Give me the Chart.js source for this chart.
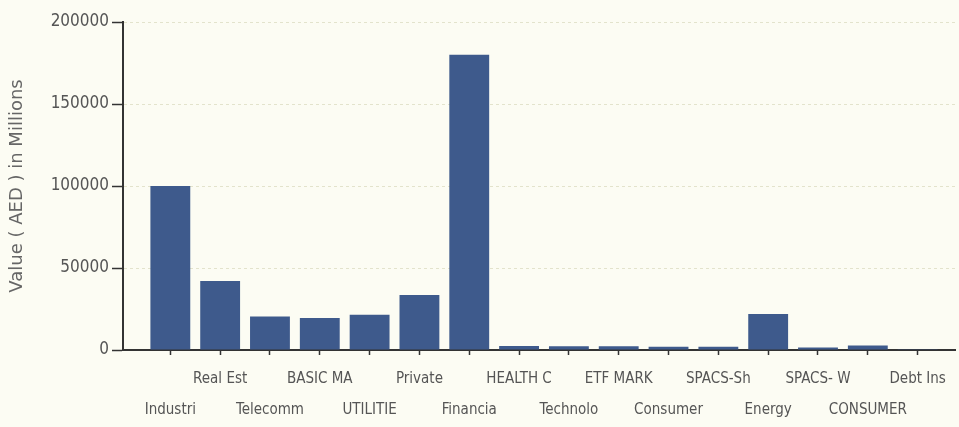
<!DOCTYPE html>
<html>
<head>
<meta charset="utf-8">
<script src="https://cdn.jsdelivr.net/npm/chart.js@4"></script>
<style>
    html, body { margin: 0; padding: 0; background: #fcfcf3; }
    #wrap { width: 959px; height: 427px; }
</style>
</head>
<body>
<div id="wrap"><canvas id="chart-sector-value"></canvas></div>
<script>
const categories = [
    "Industri", "Real Est", "Telecomm", "BASIC MA", "UTILITIE", "Private",
    "Financia", "HEALTH C", "Technolo", "ETF MARK", "Consumer", "SPACS-Sh",
    "Energy", "SPACS- W", "CONSUMER", "Debt Ins",
];
const values = [
    100000, 42000, 20500, 19500, 21500, 33500,
    180000, 2500, 2300, 2300, 2000, 2000,
    22000, 1500, 2800, 200,
];
const yTicks = [0, 50000, 100000, 150000, 200000];

const textColor = "#555555";
const axisColor = "#333333";
const narrowFont = "'DejaVu Sans Condensed', 'Liberation Sans Narrow', sans-serif";

const initChart = () => {
    const chartSectorValue = new Chart(
        document.getElementById("chart-sector-value"),
        {
            type: "bar",
            data: {
                datasets: [
                    {
                        label: "Value",
                        data: categories.map((c, i) => ({ x: i, y: values[i] })),
                        backgroundColor: "#3e5a8c",
                        borderWidth: 0,
                        barPercentage: 0.8,
                        categoryPercentage: 1,
                    },
                ],
            },
            options: {
                responsive: true,
                maintainAspectRatio: false,
                animation: false,
                layout: {
                    padding: { left: 0, top: 22, right: 4, bottom: 0 },
                },
                plugins: {
                    legend: { display: false },
                    tooltip: { enabled: false },
                },
                scales: {
                    x: {
                        type: "linear",
                        offset: false,
                        min: -0.95,
                        max: 15.75,
                        afterBuildTicks: (scale) => {
                            scale.ticks = categories.map((c, i) => ({ value: i }));
                        },
                        afterFit: (scale) => {
                            scale.height = 77;
                        },
                        grid: {
                            offset: false,
                            drawOnChartArea: false,
                            tickLength: 5,
                            tickColor: axisColor,
                            tickWidth: 1.5,
                        },
                        border: { color: axisColor, width: 2 },
                        ticks: {
                            autoSkip: false,
                            maxRotation: 0,
                            minRotation: 0,
                            padding: 9,
                            color: textColor,
                            font: {
                                family: narrowFont,
                                size: 15,
                                lineHeight: "31px",
                            },
                            callback: (value) => {
                                const name = categories[value];
                                return value % 2 === 0 ? ["", name] : [name, ""];
                            },
                        },
                    },
                    y: {
                        min: 0,
                        max: 200000,
                        afterBuildTicks: (scale) => {
                            scale.ticks = yTicks.map((v) => ({ value: v }));
                        },
                        afterFit: (scale) => {
                            scale.width = 123;
                        },
                        grid: {
                            color: "#e3e3cc",
                            lineWidth: 1,
                            tickLength: 11,
                            tickColor: axisColor,
                            tickWidth: 1.5,
                            tickBorderDash: [],
                        },
                        border: { color: axisColor, width: 2, dash: [3, 3] },
                        ticks: {
                            padding: 3,
                            color: textColor,
                            font: {
                                family: narrowFont,
                                size: 17,
                            },
                            callback: (value) => String(value),
                        },
                        title: {
                            display: true,
                            text: "Value ( AED ) in Millions",
                            color: "#666666",
                            padding: { top: 7, bottom: 0 },
                            font: {
                                family: "'DejaVu Sans', sans-serif",
                                size: 18,
                            },
                        },
                    },
                },
            },
        }
    );

    return { chart: chartSectorValue };
};

window.chartSectorValue = initChart();
</script>
</body>
</html>
